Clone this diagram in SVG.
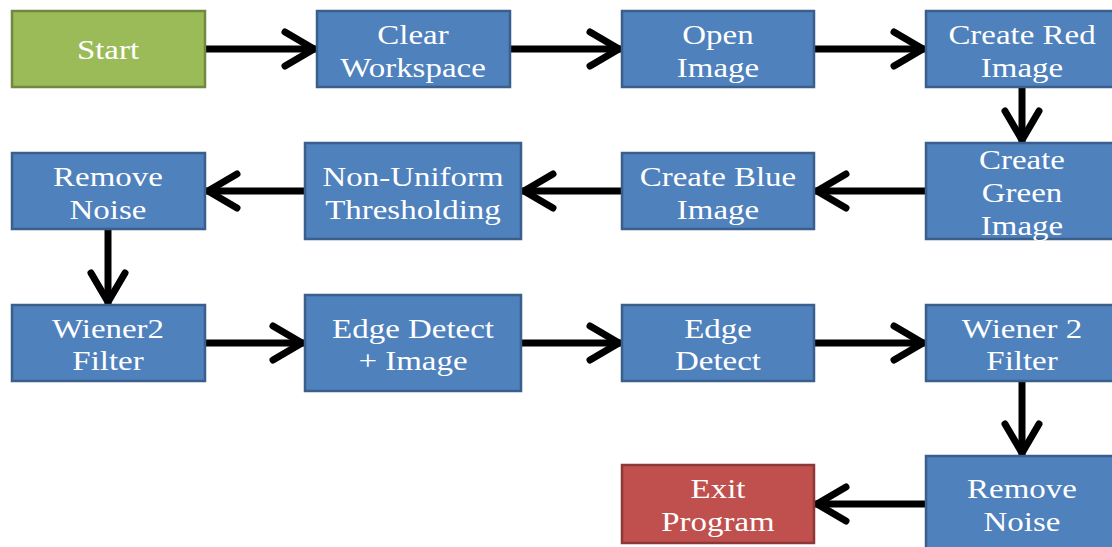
<svg xmlns="http://www.w3.org/2000/svg" width="1112" height="547" viewBox="0 0 1112 547">
<style>
.b{fill:#4F81BD;stroke:#3A5F8C;stroke-width:2.5}
.g{fill:#9BBB59;stroke:#71893F;stroke-width:2.5}
.r{fill:#C0504D;stroke:#8C3836;stroke-width:2.5}
text{font-family:"Liberation Serif","Times New Roman",serif;font-size:27px;fill:#fff;text-anchor:middle}
.c line{stroke:#000;stroke-width:7;marker-end:url(#ah)}
</style>
<defs>
<marker id="ah" markerUnits="userSpaceOnUse" markerWidth="46" markerHeight="46" viewBox="-40 -23 46 46" refX="0" refY="0" orient="auto">
<path d="M-31,-17 L-2,0 L-31,17" fill="none" stroke="#000" stroke-width="7" stroke-linecap="round" stroke-linejoin="round"/>
</marker>
</defs>
<rect width="1112" height="547" fill="#fff"/>
<g class="c">
<line x1="205" y1="49" x2="316" y2="49"/>
<line x1="510" y1="49" x2="621" y2="49"/>
<line x1="814" y1="49" x2="925" y2="49"/>
<line x1="1022" y1="88" x2="1022" y2="142"/>
<line x1="926" y1="191" x2="815" y2="191"/>
<line x1="622" y1="191" x2="522" y2="191"/>
<line x1="305" y1="191" x2="206" y2="191"/>
<line x1="108" y1="230" x2="108" y2="304"/>
<line x1="205" y1="343" x2="304" y2="343"/>
<line x1="521" y1="343" x2="621" y2="343"/>
<line x1="814" y1="343" x2="925" y2="343"/>
<line x1="1022" y1="382" x2="1022" y2="455"/>
<line x1="926" y1="504" x2="815" y2="504"/>
</g>
<g id="start"><rect class="g" x="12" y="11" width="193" height="76"/><text transform="translate(108 0) scale(1.22 1)"><tspan x="0" y="59">Start</tspan></text></g>
<g id="clear"><rect class="b" x="317" y="11" width="193" height="76"/><text transform="translate(413 0) scale(1.22 1)"><tspan x="0" y="44">Clear</tspan><tspan x="0" y="77">Workspace</tspan></text></g>
<g id="open"><rect class="b" x="622" y="11" width="192" height="76"/><text transform="translate(718 0) scale(1.22 1)"><tspan x="0" y="44">Open</tspan><tspan x="0" y="77">Image</tspan></text></g>
<g id="red"><rect class="b" x="926" y="11" width="193" height="76"/><text transform="translate(1022 0) scale(1.22 1)"><tspan x="0" y="44">Create Red</tspan><tspan x="0" y="77">Image</tspan></text></g>
<g id="green"><rect class="b" x="926" y="143" width="193" height="96"/><text transform="translate(1022 0) scale(1.22 1)"><tspan x="0" y="169">Create</tspan><tspan x="0" y="202">Green</tspan><tspan x="0" y="235">Image</tspan></text></g>
<g id="blue"><rect class="b" x="622" y="153" width="192" height="76"/><text transform="translate(718 0) scale(1.22 1)"><tspan x="0" y="186">Create Blue</tspan><tspan x="0" y="219">Image</tspan></text></g>
<g id="thresh"><rect class="b" x="305" y="143" width="216" height="96"/><text transform="translate(413 0) scale(1.22 1)"><tspan x="0" y="186">Non-Uniform</tspan><tspan x="0" y="219">Thresholding</tspan></text></g>
<g id="noise1"><rect class="b" x="12" y="153" width="193" height="76"/><text transform="translate(108 0) scale(1.22 1)"><tspan x="0" y="186">Remove</tspan><tspan x="0" y="219">Noise</tspan></text></g>
<g id="wiener1"><rect class="b" x="12" y="305" width="193" height="76"/><text transform="translate(108 0) scale(1.22 1)"><tspan x="0" y="338">Wiener2</tspan><tspan x="0" y="370">Filter</tspan></text></g>
<g id="edgeimg"><rect class="b" x="305" y="295" width="216" height="96"/><text transform="translate(413 0) scale(1.22 1)"><tspan x="0" y="338">Edge Detect</tspan><tspan x="0" y="370">+ Image</tspan></text></g>
<g id="edge"><rect class="b" x="622" y="305" width="192" height="76"/><text transform="translate(718 0) scale(1.22 1)"><tspan x="0" y="338">Edge</tspan><tspan x="0" y="370">Detect</tspan></text></g>
<g id="wiener2"><rect class="b" x="926" y="305" width="193" height="76"/><text transform="translate(1022 0) scale(1.22 1)"><tspan x="0" y="338">Wiener 2</tspan><tspan x="0" y="370">Filter</tspan></text></g>
<g id="noise2"><rect class="b" x="926" y="456" width="193" height="96"/><text transform="translate(1022 0) scale(1.22 1)"><tspan x="0" y="498">Remove</tspan><tspan x="0" y="531">Noise</tspan></text></g>
<g id="exit"><rect class="r" x="622" y="465" width="192" height="78"/><text transform="translate(718 0) scale(1.22 1)"><tspan x="0" y="498">Exit</tspan><tspan x="0" y="531">Program</tspan></text></g>
</svg>
